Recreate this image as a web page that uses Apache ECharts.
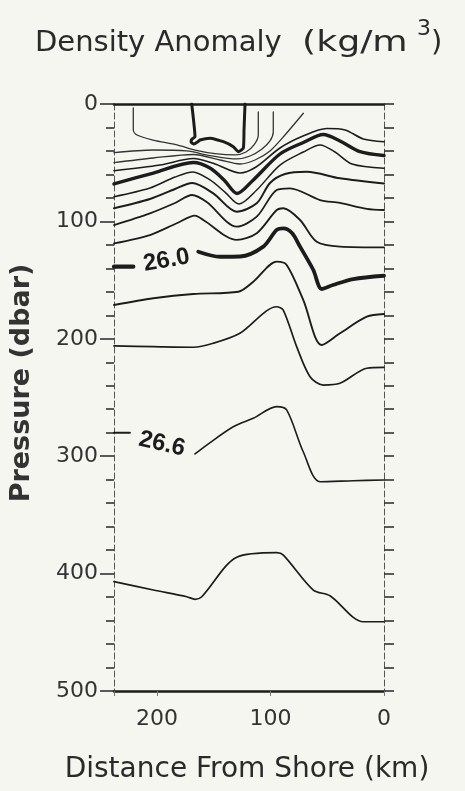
<!DOCTYPE html>
<html>
<head>
<meta charset="utf-8">
<script src="https://cdn.jsdelivr.net/npm/echarts@6/dist/echarts.min.js"></script>
<style>
  html, body { margin: 0; padding: 0; background: #f6f6f1; }
  #chart { width: 465px; height: 791px; }
</style>
</head>
<body>
<div id="chart"></div>
<script>
// Isopycnals across the shelf section, each point is [distance from shore (km), pressure (dbar)].

// Contours that outcrop near the surface
const outcropWest = [[221,3.4],[221,22.1],[217.7,26.4],[203.6,30.7],[182.5,34.9],[166.6,39.2],[149,42.2],[131.3,43.4],[121.6,40.9],[114.6,34.9],[110.8,26.4],[110.8,6.8]];
const surfaceDome = [[169.5,0],[166.6,27.9],[169.2,29.8],[170.1,32.4],[167.5,34.1],[164.4,32.4],[162.2,30.7],[153.4,29.2],[141.6,32.1],[132.8,36.4],[128.4,40.6],[124.0,37.5],[123.4,22.1],[122.5,0]];
const outcropMid = [[238,41.5],[203.3,39.2],[173.9,40.0],[153.4,43.9],[129.8,46.8],[118.1,44.3],[107.5,38.3],[100.5,31.5],[97.6,23.9],[97.6,6.8]];
const outcropEast = [[238,50.0],[203.3,46.0],[168.1,43.0],[144.6,47.7],[126.9,51.1],[113.7,47.7],[100.5,40.0],[87.3,26.4],[71.1,7.9]];

// Upper pycnocline
const iso254 = [[238,56.8],[197.4,52.0],[168.1,46.4],[149,51.1],[126.9,58.8],[112.8,53.7],[91.7,37.5],[71.4,27.3],[50.5,20.9],[34.4,22.1],[18.2,29.8],[0,32.1]];
const iso255 = [[238,68.1],[203.3,58.8],[168.1,49.8],[153.4,54.5],[141,64.7],[129.6,76.2],[115.2,64.7],[91.7,42.6],[71.1,32.8],[53.5,26.0],[38.8,31.5],[21.2,40.6],[0,43.9]];
const iso256 = [[238,79.0],[206.3,71.6],[184.2,62.2],[168.4,57.9],[153.4,64.7],[140.2,75.0],[127.8,85.2],[112.2,73.3],[91.7,52.0],[71.1,40.9],[56.4,34.9],[43.2,40.9],[28.2,51.1],[0,54.8]];
const iso257 = [[238,88.8],[206.3,80.9],[184.2,72.4],[169.2,67.3],[150.5,76.1],[129.8,91.7],[112.2,84.6],[100.5,67.3],[87.3,59.6],[68.1,57.7],[38.8,63.3],[0,67.7]];
const iso258 = [[238,103.1],[206.3,93.1],[184.2,84.3],[169.2,77.5],[156.3,83.5],[129.8,104.5],[112.2,96.0],[94.6,73.3],[82.9,71.8],[56.4,81.8],[38.8,84.3],[15.2,89.4],[0,90.3]];
const iso259 = [[238,118.7],[206.3,111.6],[182.7,101.6],[166.6,95.1],[159.3,98.8],[129.8,115.8],[112.2,110.1],[94.6,90.3],[88.8,88.8],[74.0,98.8],[59.3,117.3],[38.8,121.5],[0,122.2]];

// 26.0 and deeper (the labelled contours are split where the value is written)
const iso260West = [[238,138.6],[221,138.6]];
const iso260 = [[163.7,125.8],[144.6,130.1],[126.9,129.9],[106.4,121.5],[94.6,107.3],[88.8,105.9],[81.1,109.9],[74.0,121.5],[62.3,141.4],[54.9,157.6],[45.0,154.2],[27.1,149.1],[0,146.3]];
const iso262 = [[238,171.2],[203.3,165.5],[168.1,161.8],[128.4,159.9],[115.2,151.4],[94.6,134.3],[85.8,137.1],[71.1,167],[54.9,205.3],[38.8,195.3],[15.2,181.2],[0,178.9]];
const iso264 = [[238,206.1],[203.3,206.7],[168.1,207.2],[150.5,203.8],[127,195.3],[94.6,172.7],[88.8,175.5],[77,206.7],[65.2,232.3],[53.5,239.4],[38.8,237.9],[15.2,225.1],[0,224.3]];
const iso266West = [[238,280],[224,280]];
const iso266 = [[166.6,298.1],[156.3,290.5],[132.9,274.9],[115.3,267.7],[94.6,257.8],[85.8,260.6],[71.1,296.4],[56.4,321.7],[27.1,320.9],[0,320.3]];
const iso268 = [[238,406.9],[203.3,414],[173.8,419.7],[166.5,421.9],[160.6,419.7],[129.8,386.1],[94.6,382.2],[88.7,384.2],[62.3,414],[47.6,418.8],[18.3,441],[0,441]];

// Contour value labels
const labelText = ['26.0', '26.6'];
const labelKm = [191.7, 195.7];
const labelDbar = [133.3, 289.6];

// Axis extents
const distanceRange = [0, 238];
const pressureRange = [0, 500];

const INK = '#1c1c1c';
const labelAngle = [10, -13];

function contour(data, width, color, smooth) {
  return {
    type: 'line', data: data, showSymbol: false, symbol: 'none',
    smooth: smooth === undefined ? 0.3 : smooth, silent: true,
    lineStyle: { color: color || INK, width: width, cap: 'round', join: 'round' },
    z: 3
  };
}

const series = [
  contour(outcropWest, 1.3, '#333'),
  contour(surfaceDome, 3, INK, 0.15),
  contour(outcropMid, 1.3, '#333'),
  contour(outcropEast, 1.3, '#333'),
  contour(iso254, 1.6),
  contour(iso255, 3.4),
  contour(iso256, 1.5),
  contour(iso257, 2),
  contour(iso258, 1.8),
  contour(iso259, 1.8),
  contour(iso260West, 4.2, INK, false),
  contour(iso260, 3.8),
  contour(iso262, 1.9),
  contour(iso264, 1.7),
  contour(iso266West, 2, INK, false),
  contour(iso266, 1.6),
  contour(iso268, 1.7),
  {
    type: 'scatter', symbolSize: 0, silent: true, z: 4,
    itemStyle: { opacity: 1 },
    data: labelText.map((t, i) => ({
      value: [labelKm[i], labelDbar[i]],
      label: {
        show: true, position: 'inside', formatter: t, rotate: labelAngle[i],
        fontSize: 24, fontWeight: 'bold', color: INK, fontFamily: 'Liberation Sans',
        textBorderWidth: 0, opacity: 1
      }
    }))
  }
];

const chart = echarts.init(document.getElementById('chart'), null, { renderer: 'canvas' });
const tickFont = { fontSize: 22, color: '#333', fontFamily: 'DejaVu Sans' };
const titleFont = '"DejaVu Sans", sans-serif';

chart.setOption({
  animation: false,
  backgroundColor: '#f6f6f1',
  grid: { left: 114, right: 81, top: 104, bottom: 100 },
  xAxis: [
    {
      type: 'value', position: 'bottom', inverse: true,
      min: distanceRange[0], max: distanceRange[1], interval: 100,
      axisLine: { show: true, onZero: false, lineStyle: { color: INK, width: 2.5 } },
      axisTick: { show: true, length: 5, lineStyle: { color: '#777', width: 1 } },
      axisLabel: Object.assign({ margin: 17, formatter: v => (v % 100 === 0 ? String(v) : '') }, tickFont),
      splitLine: { show: false }
    },
    {
      type: 'value', position: 'top', inverse: true,
      min: distanceRange[0], max: distanceRange[1], interval: 100,
      axisLine: { show: true, onZero: false, lineStyle: { color: INK, width: 2.5 } },
      axisTick: { show: false }, axisLabel: { show: false }, splitLine: { show: false }
    }
  ],
  yAxis: [
    {
      type: 'value', position: 'left', inverse: true,
      min: pressureRange[0], max: pressureRange[1], interval: 100,
      axisLine: { show: true, onZero: false, lineStyle: { color: '#555', width: 1, type: [6, 3] } },
      axisTick: { show: true, length: 14, lineStyle: { color: '#333', width: 1.6 } },
      minorTick: { show: true, splitNumber: 5, length: 8, lineStyle: { color: '#333', width: 1.6 } },
      axisLabel: Object.assign({ margin: 16 }, tickFont),
      splitLine: { show: false }
    },
    {
      type: 'value', position: 'right', inverse: true,
      min: pressureRange[0], max: pressureRange[1], interval: 20,
      axisLine: { show: true, onZero: false, lineStyle: { color: '#555', width: 1, type: [6, 3] } },
      axisTick: { show: true, length: 10, lineStyle: { color: '#333', width: 1.6 } },
      axisLabel: { show: false }, splitLine: { show: false }
    }
  ],
  graphic: [
    { type: 'text', x: 35, y: 43, style: { text: 'Density Anomaly', font: '29px ' + titleFont, fill: '#2a2a2a', verticalAlign: 'middle', textVerticalAlign: 'middle' } },
    { type: 'text', x: 302, y: 43, scaleX: 1.25, style: { text: '(kg/m', font: '29px ' + titleFont, fill: '#2a2a2a', verticalAlign: 'middle', textVerticalAlign: 'middle' } },
    { type: 'text', x: 417, y: 29, style: { text: '3', font: '22px ' + titleFont, fill: '#2a2a2a', verticalAlign: 'middle', textVerticalAlign: 'middle' } },
    { type: 'text', x: 431, y: 43, style: { text: ')', font: '29px ' + titleFont, fill: '#2a2a2a', verticalAlign: 'middle', textVerticalAlign: 'middle' } },
    { type: 'text', x: 247, y: 770, style: { text: 'Distance From Shore (km)', font: '28px ' + titleFont, fill: '#2a2a2a', align: 'center', textAlign: 'center', verticalAlign: 'middle', textVerticalAlign: 'middle' } },
    { type: 'text', x: 22, y: 383, rotation: Math.PI / 2, style: { text: 'Pressure (dbar)', font: 'bold 27px ' + titleFont, fill: '#333', align: 'center', textAlign: 'center', verticalAlign: 'middle', textVerticalAlign: 'middle' } }
  ],
  series: series
});
</script>
</body>
</html>
